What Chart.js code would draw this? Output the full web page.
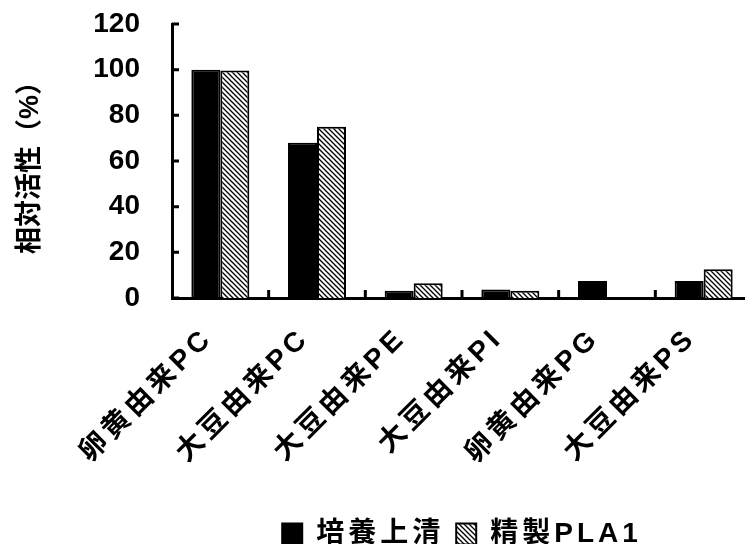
<!DOCTYPE html>
<html>
<head>
<meta charset="utf-8">
<script src="https://cdn.jsdelivr.net/npm/chart.js@4"></script>
<style>
  html, body { margin: 0; padding: 0; background: #fff; overflow: hidden; }
  #wrap { width: 752px; height: 544px; }
</style>
</head>
<body>
<div id="wrap"><canvas id="chart" width="752" height="544"></canvas></div>
<script>
'use strict';

// data
const categories = ['卵黄由来PC', '大豆由来PC', '大豆由来PE', '大豆由来PI', '卵黄由来PG', '大豆由来PS'];
const culture = [100, 68, 3.2, 3.7, 7.5, 7.5];
const purified = [99.6, 75, 6.5, 3.2, 0, 12.6];
const seriesNames = ['培養上清', '精製PLA1'];
const yTicks = [0, 20, 40, 60, 80, 100, 120];

const fontFam = "'Liberation Sans', 'Noto Sans CJK JP', sans-serif";
const spacing = '4px';

function hatch() {
    const c = document.createElement('canvas');
    c.width = 5;
    c.height = 5;
    const g = c.getContext('2d');
    g.fillStyle = '#fff';
    g.fillRect(0, 0, 5, 5);
    g.strokeStyle = '#000';
    g.lineWidth = 1.3;
    g.beginPath();
    g.moveTo(-1, -1); g.lineTo(6, 6);
    g.moveTo(-1, 4); g.lineTo(1, 6);
    g.moveTo(4, -1); g.lineTo(6, 1);
    g.stroke();
    return g.createPattern(c, 'repeat');
}

// the japanese text in the original is spaced out a bit, the numbers are not
const spaced = {
    id: 'spaced',
    beforeLayout(chart) { chart.ctx.letterSpacing = spacing; },
    beforeDraw(chart) { chart.ctx.letterSpacing = spacing; },
    afterLayout(chart) {
        const y = chart.scales.y;
        if (y._patched) return;
        y._patched = true;
        ['drawLabels', 'drawTitle'].forEach(fn => {
            const orig = y[fn];
            y[fn] = function (a) {
                this.ctx.letterSpacing = '0px';
                orig.call(this, a);
                this.ctx.letterSpacing = spacing;
            };
        });
    }
};

// ticks point into the plot in the original
const innerTicks = {
    id: 'innerTicks',
    afterDraw(chart) {
        const ctx = chart.ctx;
        const x = chart.scales.x, y = chart.scales.y;
        ctx.save();
        ctx.strokeStyle = '#000';
        ctx.lineWidth = 3;
        ctx.beginPath();
        y.ticks.forEach((t, i) => {
            const py = y.getPixelForTick(i);
            ctx.moveTo(y.right, py);
            ctx.lineTo(y.right + 7, py);
        });
        for (let i = 1; i <= categories.length; i++) {
            const px = x.getPixelForValue(i - 0.5);
            ctx.moveTo(px, x.top);
            ctx.lineTo(px, x.top - 8);
        }
        ctx.stroke();
        ctx.restore();
    }
};

const chartData = {
    labels: categories,
    datasets: [{
        label: seriesNames[0],
        data: culture,
        backgroundColor: '#000',
        borderColor: '#000',
        borderWidth: 2,
    }, {
        label: seriesNames[1],
        data: purified,
        backgroundColor: hatch(),
        borderColor: '#000',
        borderWidth: 2,
    }],
};

const chartConfig = {
    type: 'bar',
    data: chartData,
    plugins: [spaced, innerTicks],
    options: {
        responsive: false,
        animation: false,
        categoryPercentage: 0.6,
        barPercentage: 1.0,
        layout: { padding: { top: 24, right: 0, left: 0, bottom: -14 } },
        plugins: {
            legend: {
                position: 'bottom',
                fullSize: false,
                labels: {
                    color: '#000',
                    boxWidth: 20,
                    boxHeight: 21,
                    padding: 12,
                    font: { family: fontFam, size: 28, weight: 'bold' },
                },
            },
            tooltip: { enabled: false },
        },
        scales: {
            x: {
                grid: { display: false },
                border: { color: '#000', width: 3 },
                ticks: {
                    color: '#000',
                    minRotation: 45,
                    maxRotation: 45,
                    padding: 16,
                    labelOffset: -12,
                    font: { family: fontFam, size: 28, weight: 'bold' },
                },
                afterFit: s => {
                    s.height = 210;
                    s.paddingLeft = 0;
                    s.paddingRight = 0;
                },
            },
            y: {
                min: 0,
                max: 120,
                afterBuildTicks: s => { s.ticks = yTicks.map(v => ({ value: v })); },
                grid: { display: false },
                border: { color: '#000', width: 3 },
                ticks: {
                    color: '#000',
                    padding: 24,
                    font: { family: fontFam, size: 28, weight: 'bold' },
                },
                title: {
                    display: true,
                    text: '相対活性（%）',
                    color: '#000',
                    padding: { top: 14, bottom: 0 },
                    font: { family: fontFam, size: 27, weight: 'bold' },
                },
                afterFit: s => {
                    s.width = 172;
                    s.paddingTop = 0;
                    s.paddingBottom = 0;
                },
            },
        },
    },
};

const chart = new Chart(document.getElementById('chart'), chartConfig);
</script>
</body>
</html>
